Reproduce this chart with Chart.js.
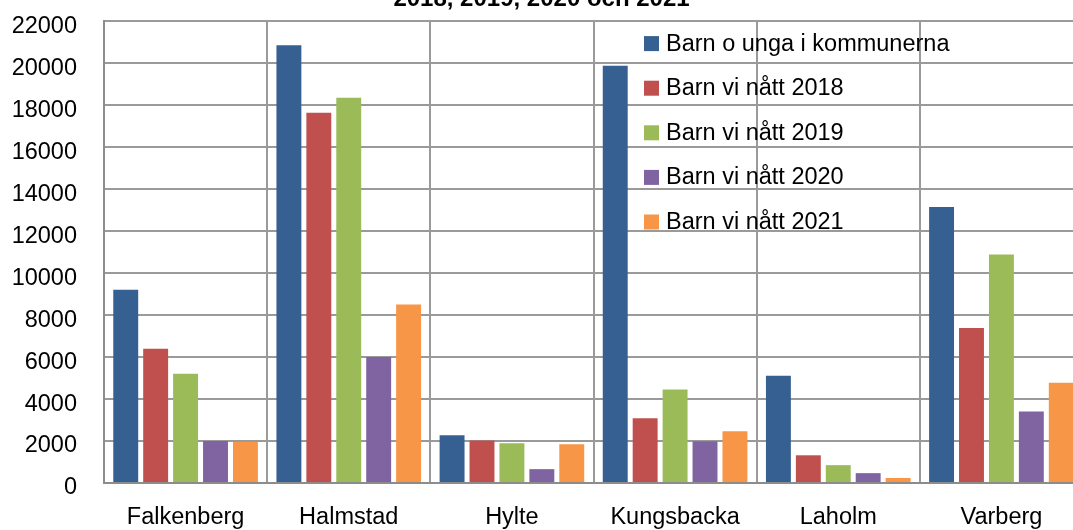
<!DOCTYPE html>
<html>
<head>
<meta charset="utf-8">
<script src="https://cdn.jsdelivr.net/npm/chart.js@4"></script>
<style>
  html, body { margin: 0; padding: 0; background: #fff; overflow: hidden; width: 1073px; height: 530px; }
  #wrap { position: absolute; left: 0; top: -20px; width: 1090px; height: 550px; }
</style>
</head>
<body>
<div id="wrap"><canvas id="myChart"></canvas></div>
<script>
// Kommuner och serier
var kommuner = ["Falkenberg", "Halmstad", "Hylte", "Kungsbacka", "Laholm", "Varberg"];
var serieNamn = ["Barn o unga i kommunerna", "Barn vi nått 2018", "Barn vi nått 2019", "Barn vi nått 2020", "Barn vi nått 2021"];
var barnOUnga = [9200, 20850, 2270, 19870, 5110, 13150];
var natt2018 = [6400, 17640, 2030, 3080, 1320, 7380];
var natt2019 = [5200, 18350, 1890, 4450, 850, 10880];
var natt2020 = [2000, 6000, 660, 1990, 470, 3400];
var natt2021 = [1950, 8500, 1840, 2460, 240, 4780];
var yTicks = [0, 2000, 4000, 6000, 8000, 10000, 12000, 14000, 16000, 18000, 20000, 22000];
var titel = "2018, 2019, 2020 och 2021";

var farger = ["#366092", "#c0504d", "#9bbb59", "#8064a2", "#f79646"];
var serier = [barnOUnga, natt2018, natt2019, natt2020, natt2021];
var gridFarg = "#9a9a9a";
var typsnitt = "'Liberation Sans', Arial, sans-serif";

// legend inne i diagramytan
var legendInne = {
  id: "legendInne",
  afterDatasetsDraw: function (chart) {
    var ctx = chart.ctx;
    var top = chart.chartArea.top;
    ctx.save();
    ctx.font = "23.5px " + typsnitt;
    ctx.textBaseline = "middle";
    ctx.textAlign = "left";
    chart.data.datasets.forEach(function (ds, i) {
      var y = top + 22 + i * 44.6;
      ctx.fillStyle = ds.backgroundColor;
      ctx.fillRect(644, y - 7, 15, 15);
      ctx.fillStyle = "#000";
      ctx.fillText(ds.label, 666, y + 1);
    });
    ctx.restore();
  },
};

var ctx = document.getElementById("myChart").getContext("2d");
var myChart = new Chart(ctx, {
  type: "bar",
  data: {
    labels: kommuner,
    datasets: serier.map(function (data, i) {
      return {
        label: serieNamn[i],
        data: data,
        backgroundColor: farger[i],
        borderWidth: 0,
        categoryPercentage: 0.917,
        barPercentage: 0.833,
      };
    }),
  },
  options: {
    responsive: true,
    maintainAspectRatio: false,
    animation: false,
    layout: { padding: { left: 0, right: 7, top: 0, bottom: 0 } },
    plugins: {
      legend: { display: false },
      tooltip: { enabled: false },
      title: {
        display: true,
        text: titel,
        color: "#000",
        font: { family: typsnitt, size: 24, weight: "bold", lineHeight: 1.2 },
        padding: { top: 2, bottom: 7.2 },
      },
    },
    scales: {
      x: {
        grid: { display: true, offset: true, color: gridFarg, lineWidth: 2, drawTicks: false },
        border: { color: "#8c8c8c", width: 2 },
        ticks: { color: "#000", font: { family: typsnitt, size: 23.5 }, padding: 20, maxRotation: 0, autoSkip: false },
        afterFit: function (scale) { scale.height = 47; },
      },
      y: {
        min: 0,
        max: 22000,
        afterBuildTicks: function (scale) {
          scale.ticks = yTicks.map(function (v) { return { value: v }; });
        },
        grid: { color: gridFarg, lineWidth: 2, drawTicks: false },
        border: { color: "#8c8c8c", width: 2 },
        ticks: {
          color: "#000",
          font: { family: typsnitt, size: 23.5 },
          padding: 27,
          labelOffset: 5,
          callback: function (v) { return String(v); },
        },
        afterFit: function (scale) { scale.width = 104; },
      },
    },
  },
  plugins: [legendInne],
});
</script>
</body>
</html>
